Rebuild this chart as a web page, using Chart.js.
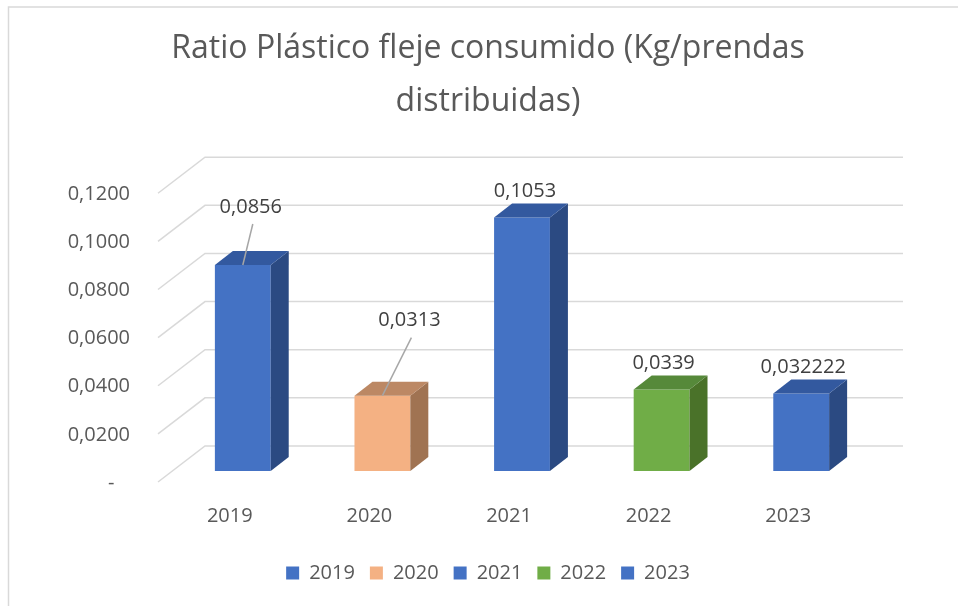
<!DOCTYPE html>
<html>
<head>
<meta charset="utf-8">
<script src="https://cdn.jsdelivr.net/npm/chart.js@4"></script>
<style>
  html, body { margin: 0; padding: 0; background: #fff; }
  #wrap { width: 958px; height: 606px; }
</style>
</head>
<body>
<div id="wrap"><canvas id="chart" width="958" height="606"></canvas></div>
<script>
const years = ['2019', '2020', '2021', '2022', '2023'];
const ratios = [0.0856, 0.0313, 0.1053, 0.0339, 0.032222];
const yTicks = [0, 0.02, 0.04, 0.06, 0.08, 0.10, 0.12];

// Excel-ish palette: front / side / top faces
const front = ['#4472C4', '#F4B183', '#4472C4', '#70AD47', '#4472C4'];
const side = ['#2B4A82', '#A07352', '#2B4A82', '#4A7229', '#2B4A82'];
const top3d = ['#33599F', '#BC8864', '#33599F', '#56893A', '#33599F'];

// label placement relative to bar top (moved labels get a leader line)
const labelShift = [[8, -58], [27, -75], [3, -26], [2, -26], [2, -26]];
const hasLeader = [true, true, false, false, false];

const FONT = '"Open Sans"';
const DEPTH = { dx: 18, dy: -14 };
const BACK = { dx: 32, dy: -25 };
const FRONT = { dx: -15, dy: 11 };

const fmt = v => String(v).replace('.', ',');

const frame = {
  id: 'frame',
  beforeDraw(chart) {
    const ctx = chart.ctx;
    ctx.save();
    ctx.fillStyle = '#fff';
    ctx.fillRect(0, 0, chart.width, chart.height);
    ctx.strokeStyle = '#d9d9d9';
    ctx.lineWidth = 1.5;
    ctx.beginPath();
    ctx.moveTo(8.5, chart.height);
    ctx.lineTo(8.5, 7);
    ctx.lineTo(chart.width, 7);
    ctx.stroke();
    ctx.restore();
  }
};

const wall = {
  id: 'wall',
  beforeDatasetsDraw(chart) {
    const { ctx, chartArea: a, scales: { y } } = chart;
    ctx.save();
    ctx.strokeStyle = '#d9d9d9';
    ctx.lineWidth = 1.5;
    yTicks.forEach(v => {
      const py = y.getPixelForValue(v);
      ctx.beginPath();
      ctx.moveTo(a.left + FRONT.dx, py + FRONT.dy);
      ctx.lineTo(a.left + BACK.dx, py + BACK.dy);
      ctx.lineTo(a.right + BACK.dx, py + BACK.dy);
      ctx.stroke();
    });
    ctx.restore();
  }
};

const bars3d = {
  id: 'bars3d',
  afterDatasetsDraw(chart) {
    const ctx = chart.ctx;
    const meta = chart.getDatasetMeta(0);
    ctx.save();
    meta.data.forEach((bar, i) => {
      const l = bar.x - bar.width / 2, r = bar.x + bar.width / 2;
      const t = bar.y, b = bar.base;
      ctx.fillStyle = side[i];
      ctx.beginPath();
      ctx.moveTo(r, t);
      ctx.lineTo(r + DEPTH.dx, t + DEPTH.dy);
      ctx.lineTo(r + DEPTH.dx, b + DEPTH.dy);
      ctx.lineTo(r, b);
      ctx.closePath();
      ctx.fill();
      ctx.fillStyle = top3d[i];
      ctx.beginPath();
      ctx.moveTo(l, t);
      ctx.lineTo(l + DEPTH.dx, t + DEPTH.dy);
      ctx.lineTo(r + DEPTH.dx, t + DEPTH.dy);
      ctx.lineTo(r, t);
      ctx.closePath();
      ctx.fill();
    });

    // value labels
    ctx.font = '20px ' + FONT;
    ctx.fillStyle = '#404040';
    ctx.textAlign = 'center';
    ctx.textBaseline = 'middle';
    meta.data.forEach((bar, i) => {
      const lx = bar.x + labelShift[i][0];
      const ly = bar.y + labelShift[i][1];
      if (hasLeader[i]) {
        ctx.strokeStyle = '#a6a6a6';
        ctx.lineWidth = 1.5;
        ctx.beginPath();
        ctx.moveTo(lx + 2, ly + 17);
        ctx.lineTo(bar.x, bar.y);
        ctx.stroke();
      }
      ctx.fillText(fmt(ratios[i]), lx, ly);
    });
    ctx.restore();
  }
};

new Chart(document.getElementById('chart'), {
  type: 'bar',
  data: {
    labels: years,
    datasets: [{
      label: 'Ratio',
      data: ratios,
      backgroundColor: front,
      borderWidth: 0,
      categoryPercentage: 0.4,
      barPercentage: 1
    }]
  },
  options: {
    responsive: false,
    animation: false,
    layout: { padding: { left: 18, right: 0, top: 0, bottom: 13 } },
    scales: {
      x: {
        grid: { display: false, drawTicks: false },
        border: { display: false },
        ticks: {
          color: '#595959',
          font: { family: FONT, size: 20 },
          padding: 33,
          labelOffset: -13
        },
        afterFit(s) { s.height = 77; }
      },
      y: {
        min: 0,
        max: 0.12,
        grid: { display: false, drawTicks: false },
        border: { display: false },
        afterBuildTicks(s) { s.ticks = yTicks.map(v => ({ value: v })); },
        ticks: {
          color: '#595959',
          font: { family: FONT, size: 20 },
          padding: 43,
          labelOffset: 12,
          callback: v => v === 0 ? '-   ' : v.toFixed(4).replace('.', ',')
        },
        afterFit(s) { s.width = 155; }
      },
      y2: {
        position: 'right',
        display: true,
        grid: { display: false, drawTicks: false },
        border: { display: false },
        ticks: { display: false },
        afterFit(s) { s.width = 87; }
      }
    },
    plugins: {
      tooltip: { enabled: false },
      title: {
        display: true,
        text: ['Ratio Plástico fleje consumido (Kg/prendas', 'distribuidas)'],
        color: '#595959',
        font: { family: FONT, size: 32, weight: 'normal', lineHeight: 1.66 },
        padding: { top: 22, bottom: 54 }
      },
      legend: {
        position: 'bottom',
        labels: {
          color: '#595959',
          font: { family: FONT, size: 20 },
          boxWidth: 13,
          boxHeight: 13,
          padding: 15,
          generateLabels: () => years.map((yr, i) => ({
            text: yr,
            fillStyle: front[i],
            strokeStyle: front[i],
            lineWidth: 0,
            fontColor: '#595959',
            hidden: false,
            index: i
          }))
        }
      }
    }
  },
  plugins: [frame, wall, bars3d]
});
</script>
</body>
</html>
